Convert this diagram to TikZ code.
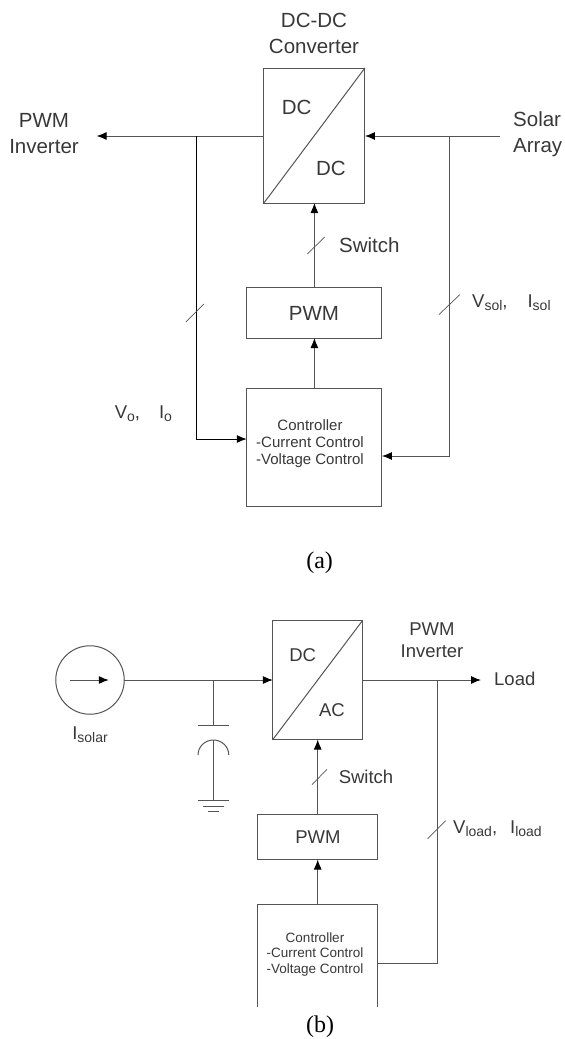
\documentclass[tikz,border=0pt]{standalone}
\usepackage{fontspec}
\setmainfont{Liberation Sans}
\setsansfont{Liberation Sans}
\newfontfamily\capfont{Liberation Serif}
\usetikzlibrary{arrows.meta}

\definecolor{linegray}{gray}{0.33}
\definecolor{textgray}{gray}{0.22}
\newcommand{\lowtxt}[2]{#1\raisebox{-0.18em}{\fontsize{14}{14}\selectfont #2}}

\tikzset{
    wire/.style={draw=linegray, line width=1pt},
    arr/.style={wire, -{Latex[length=10pt,width=8pt,black]}},
    blockbox/.style={wire, inner sep=0pt, outer sep=0pt},
    txtbig/.style={text=textgray, inner sep=0pt, align=center, font=\fontsize{20.5}{26}\selectfont},
    txtmid/.style={text=textgray, inner sep=0pt, align=center, font=\fontsize{18.5}{22}\selectfont},
    ctrltxt/.style={text=textgray, inner sep=0pt, align=center},
    caption/.style={inner sep=0pt, font=\capfont\fontsize{24}{26}\selectfont}
}

\begin{document}
\begin{tikzpicture}[x=1pt, y=-1pt]
    \useasboundingbox (0,0) rectangle (565,1039);

    % (a) blocks
    \node[blockbox, minimum width=101pt, minimum height=135pt] (conva) at (314.4,135.5) {};
    \node[blockbox, minimum width=135pt, minimum height=51pt] (pwma) at (314.4,312.5) {};
    \node[blockbox, minimum width=135pt, minimum height=118pt] (ctrla) at (314.4,447.5) {};
    \draw[wire] (conva.south west) -- (conva.north east);

    % (a) labels
    \node[txtbig] (titlea) at (314,33) {DC-DC\\Converter};
    \node[txtbig] (dca) at (296.6,107) {DC};
    \node[txtbig] (dcb) at (331,168) {DC};
    \node[txtbig] (pwmtxta) at (314,313) {PWM};
    \node[txtbig] (swa) at (369.4,245) {Switch};
    \node[txtbig] (inva) at (44,134) {PWM\\Inverter};
    \node[txtbig, anchor=west, align=left] (solar) at (513,134) {Solar\\Array};
    \node[ctrltxt, font=\fontsize{15}{17}\selectfont] (ctrltxta) at (310,444) {Controller\\-Current Control\\-Voltage Control};
    \node[txtmid, anchor=west] (vsol) at (472,303) {\lowtxt{V}{sol},\hspace{20pt}\lowtxt{I}{sol}};
    \node[txtmid, anchor=west] (vo) at (114.6,414) {\lowtxt{V}{o},\hspace{19pt}\lowtxt{I}{o}};
    \node[caption] (capa) at (319.6,563) {(a)};

    % (a) connectors
    \coordinate (outa) at (96.6,136);
    \coordinate (ina) at (500,136);
    \coordinate (ja) at (196.4,136);
    \coordinate (jb) at (449,136);
    \coordinate (fba) at (246.8,439);
    \coordinate (fbb) at (381.9,456);
    \draw[arr] (conva.west |- ja) -- (outa);
    \draw[arr] (ina) -- (conva.east |- jb);
    \draw[arr] (pwma.north) -- (conva.south);
    \draw[arr] (ctrla.north) -- (pwma.south);
    \draw[arr, draw=black] (ja) |- (fba);
    \draw[arr] (jb) |- (fbb);

    % (b) blocks
    \node[blockbox, minimum width=89.7pt, minimum height=119pt] (convb) at (317.7,680) {};
    \node[blockbox, minimum width=119.5pt, minimum height=45pt] (pwmb) at (317.7,837) {};
    \node[minimum width=119.5pt, minimum height=103pt, inner sep=0pt, outer sep=0pt] (ctrlb) at (317.7,955.5) {};
    \draw[wire] (convb.south west) -- (convb.north east);
    \draw[wire] (ctrlb.south west) |- (ctrlb.north east) -- (ctrlb.south east);
    \node[blockbox, circle, minimum size=68.5pt] (src) at (90,680) {};

    % (b) labels
    \node[txtmid] (dcc) at (302.7,655) {DC};
    \node[txtmid] (acc) at (332,710) {AC};
    \node[txtmid] (invb) at (432,640) {PWM\\Inverter};
    \node[txtmid, anchor=west] (load) at (494,679) {Load};
    \node[txtmid] (swb) at (366,777) {Switch};
    \node[txtmid] (pwmtxtb) at (318,837) {PWM};
    \node[ctrltxt, font=\fontsize{13.5}{15.5}\selectfont] (ctrltxtb) at (315,954) {Controller\\-Current Control\\-Voltage Control};
    \node[txtmid] (isol) at (90,735) {\lowtxt{I}{solar}};
    \node[txtmid, anchor=west] (vload) at (453,829) {\lowtxt{V}{load},\hspace{13pt}\lowtxt{I}{load}};
    \node[caption] (capb) at (320,1027) {(b)};

    % (b) connectors
    \coordinate (srca) at (70.3,680);
    \coordinate (srcb) at (108.8,680);
    \coordinate (jc) at (213.3,680);
    \coordinate (jd) at (437,680);
    \coordinate (loadend) at (481,680);
    \draw[arr] (srca) -- (srcb);
    \draw[arr] (src.east) -- (convb.west);
    \draw[arr] (convb.east) -- (loadend);
    \draw[arr] (pwmb.north) -- (convb.south);
    \draw[arr] (ctrlb.north) -- (pwmb.south);
    \draw[wire] (ctrlb.east |- 0,963.7) -| (jd);

    % capacitor and ground
    \coordinate (plateup) at (213.3,725);
    \coordinate (platelow) at (213.3,740);
    \coordinate (gnd) at (213.3,800);
    \draw[wire] (jc) -- (plateup);
    \draw[wire] (198,725) -- (228.8,725);
    \draw[wire] (198,755) arc[start angle=180, end angle=0, x radius=15.4, y radius=-15];
    \draw[wire] (platelow) -- (gnd);
    \foreach \y/\w in {800/15.4, 806/10.2, 811/5.8}
        \draw[wire] (213.3-\w,\y) -- (213.3+\w,\y);

    % slashes on the lines
    \foreach \x/\y/\w/\h in {194.8/313/9/9, 449.5/304.5/10.5/10, 316/245.5/8.7/8.5,
                             319.5/777/7.5/7.7, 436.7/829.7/9/9}
        \draw[wire, line width=0.7pt] (\x-\w,\y+\h) -- (\x+\w,\y-\h);
\end{tikzpicture}
\end{document}
